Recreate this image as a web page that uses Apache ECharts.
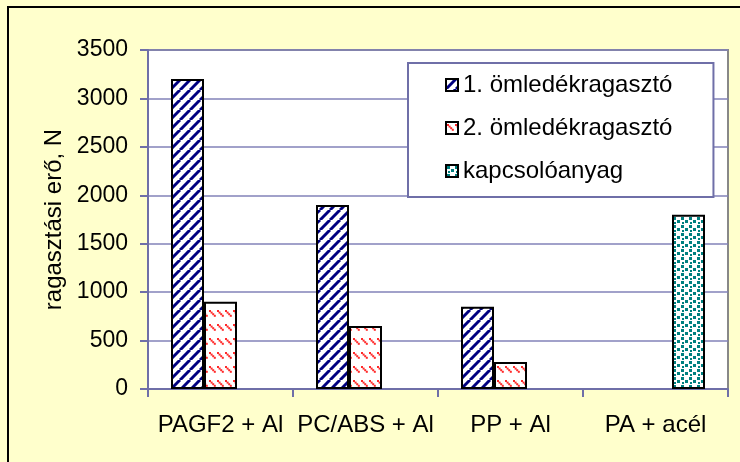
<!DOCTYPE html>
<html>
<head>
<meta charset="utf-8">
<script src="https://cdn.jsdelivr.net/npm/echarts@6/dist/echarts.min.js"></script>
<style>
  html, body { margin: 0; padding: 0; background: #ffffcc; }
  #chart { width: 740px; height: 462px; }
</style>
</head>
<body>
<div id="chart"></div>
<script>
// adatok
var categories = ['PAGF2 + Al', 'PC/ABS + Al', 'PP + Al', 'PA + acél'];
var seriesNames = ['1. ömledékragasztó', '2. ömledékragasztó', 'kapcsolóanyag'];
var glue1 = [3200, 1900, 850, null];
var glue2 = [900, 650, 280, null];
var coupling = [null, null, null, 1800];

var FONT = '"Liberation Sans", Arial, sans-serif';

// mintázatok (hatch)
function stripes() {
  var c = document.createElement('canvas');
  c.width = 10; c.height = 10;
  var ctx = c.getContext('2d');
  ctx.fillStyle = '#fff';
  ctx.fillRect(0, 0, 10, 10);
  ctx.strokeStyle = '#000080';
  ctx.lineWidth = 3;
  [-10, 0, 10].forEach(function (o) {
    ctx.beginPath();
    ctx.moveTo(o, 10);
    ctx.lineTo(o + 10, 0);
    ctx.stroke();
  });
  return c;
}
function redDashes() {
  var c = document.createElement('canvas');
  c.width = 8; c.height = 14;
  var ctx = c.getContext('2d');
  ctx.fillStyle = '#fff';
  ctx.fillRect(0, 0, 8, 14);
  ctx.fillStyle = '#ff2a2a';
  for (var i = 0; i < 4; i++) {
    ctx.fillRect(1 + i * 1.6, 2 + i * 1.6, 2, 2);
  }
  return c;
}
function tealDots() {
  var c = document.createElement('canvas');
  c.width = 8; c.height = 8;
  var ctx = c.getContext('2d');
  ctx.fillStyle = '#fff';
  ctx.fillRect(0, 0, 8, 8);
  ctx.fillStyle = '#008080';
  ctx.fillRect(1, 1, 3, 3);
  ctx.fillRect(5, 4, 3, 3);
  ctx.fillRect(2, 6, 2, 2);
  return c;
}

var chart = echarts.init(document.getElementById('chart'));

function barSeries(name, data, pattern) {
  return {
    name: name,
    type: 'bar',
    data: data,
    barWidth: 33,
    barGap: '0%',
    itemStyle: {
      color: { image: pattern, repeat: 'repeat' },
      borderColor: '#000',
      borderWidth: 2
    }
  };
}

var option = {
  backgroundColor: '#ffffcc',
  animation: false,
  graphic: [{
    type: 'rect',
    shape: { x: 8, y: 7, width: 760, height: 480 },
    style: { fill: 'none', stroke: '#000', lineWidth: 2 },
    z: 100
  }],
  grid: {
    left: 148, right: 12, top: 50, bottom: 73,
    show: true,
    backgroundColor: '#fff',
    borderColor: '#888',
    borderWidth: 2
  },
  legend: {
    orient: 'vertical',
    left: 408,
    top: 63,
    data: seriesNames,
    icon: 'rect',
    itemWidth: 12,
    itemHeight: 12,
    itemGap: 19,
    padding: [10, 41, 14, 37],
    backgroundColor: '#fff',
    borderColor: '#6f6fa8',
    borderWidth: 2,
    textStyle: { fontFamily: FONT, fontSize: 24, color: '#000' }
  },
  xAxis: {
    type: 'category',
    data: categories,
    axisLine: { lineStyle: { color: '#6f6fa8', width: 2 } },
    axisTick: { show: true, length: 8, lineStyle: { color: '#6f6fa8', width: 2 } },
    axisLabel: { fontFamily: FONT, fontSize: 24, color: '#000', margin: 24, interval: 0 }
  },
  yAxis: {
    type: 'value',
    min: 0,
    max: 3500,
    interval: 500,
    name: 'ragasztási erő, N',
    nameLocation: 'middle',
    nameGap: 78,
    nameTextStyle: { fontFamily: FONT, fontSize: 24, color: '#000' },
    axisLine: { show: true, lineStyle: { color: '#6f6fa8', width: 2 } },
    axisTick: { show: true, length: 8, lineStyle: { color: '#6f6fa8', width: 2 } },
    axisLabel: {
      fontFamily: FONT, fontSize: 23, color: '#000', margin: 20,
      formatter: function (v) { return String(v); }
    },
    splitLine: { lineStyle: { color: '#8282b8', width: 1.5 } }
  },
  series: [
    barSeries(seriesNames[0], glue1, stripes()),
    barSeries(seriesNames[1], glue2, redDashes()),
    barSeries(seriesNames[2], coupling, tealDots())
  ]
};

chart.setOption(option);
</script>
</body>
</html>
